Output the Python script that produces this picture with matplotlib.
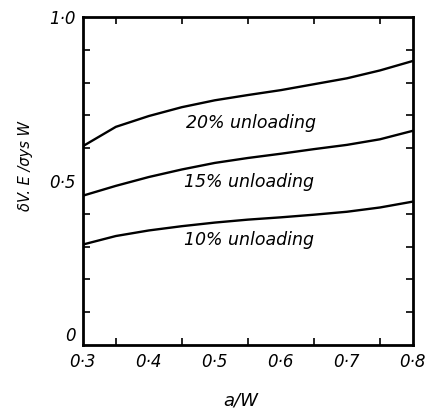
import numpy as np
import matplotlib
matplotlib.use('Agg')
import matplotlib.pyplot as plt
from matplotlib.ticker import MultipleLocator

# values
a_w = [0.30, 0.35, 0.40, 0.45, 0.50, 0.55, 0.60, 0.65, 0.70, 0.75, 0.80]
unl_20 = [0.606, 0.665, 0.698, 0.725, 0.746, 0.762, 0.777, 0.795, 0.813, 0.837, 0.866]
unl_15 = [0.455, 0.485, 0.512, 0.535, 0.555, 0.570, 0.583, 0.597, 0.610, 0.627, 0.653]
unl_10 = [0.306, 0.332, 0.349, 0.362, 0.373, 0.382, 0.389, 0.397, 0.406, 0.419, 0.437]

labels = ['20% unloading', '15% unloading', '10% unloading']
label_pos = [(0.555, 0.677), (0.551, 0.497), (0.551, 0.320)]

xticks = [0.3, 0.4, 0.5, 0.6, 0.7, 0.8]
xticklabels = ['0·3', '0·4', '0·5', '0·6', '0·7', '0·8']
yticks = [0, 0.5, 1.0]
yticklabels = ['0', '0·5', '1·0']

plt.rcParams['font.family'] = ['DejaVu Sans']
fig = plt.figure(figsize=(4.27, 4.15), dpi=100)
ax = fig.add_axes([0.194, 0.169, 0.773, 0.790])

for ys in (unl_20, unl_15, unl_10):
    ax.plot(a_w, ys, color='black', lw=1.7, solid_joinstyle='round')

for lab, (x, y) in zip(labels, label_pos):
    ax.text(x, y, lab, ha='center', va='center', fontsize=12.5, style='italic')

ax.set_xlim(0.3, 0.8)
ax.set_ylim(0, 1.0)
ax.set_xticks(xticks)
ax.set_xticklabels(xticklabels, fontsize=12, style='italic')
ax.set_yticks(yticks)
ax.set_yticklabels(yticklabels, fontsize=12, style='italic')
ax.get_yticklabels()[0].set_va('bottom')
ax.xaxis.set_minor_locator(MultipleLocator(0.05))
ax.yaxis.set_minor_locator(MultipleLocator(0.1))
ax.tick_params(which='both', direction='in', top=True, right=True, width=1.2, color='black')
ax.tick_params(which='major', length=0)
ax.tick_params(axis='x', which='major', pad=6)
ax.tick_params(axis='y', which='major', pad=5)
ax.tick_params(which='minor', length=5)
for s in ax.spines.values():
    s.set_linewidth(2.0)

ax.set_xlabel('a/W', fontsize=13, style='italic')
ax.xaxis.set_label_coords(0.479, -0.142)
ax.set_ylabel('δV. E /σys W', fontsize=10.5, style='italic')
ax.yaxis.set_label_coords(-0.152, 0.546)

plt.savefig('out.png')
